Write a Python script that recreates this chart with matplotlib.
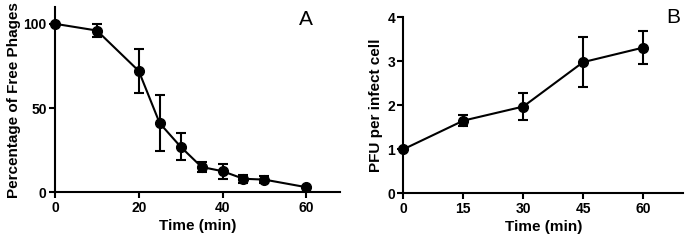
import matplotlib
matplotlib.use("Agg")
import matplotlib.pyplot as plt

plt.rcParams['font.family'] = ['Liberation Sans', 'DejaVu Sans']

# Panel A data
time_a = [0, 10, 20, 25, 30, 35, 40, 45, 50, 60]
free_pct = [100, 96, 72, 41, 27, 15, 12.5, 8, 7.5, 3]
free_err = [0, 4, 13, 16.5, 8, 3, 4.5, 2.5, 2, 0]
xticks_a = [0, 20, 40, 60]
yticks_a = [0, 50, 100]

# Panel B data
time_b = [0, 15, 30, 45, 60]
pfu = [1.0, 1.65, 1.97, 2.98, 3.31]
pfu_err = [0, 0.13, 0.31, 0.57, 0.37]
xticks_b = [0, 15, 30, 45, 60]
yticks_b = [0, 1, 2, 3, 4]

fig = plt.figure(figsize=(6.85, 2.4), dpi=100)
axA = fig.add_axes([0.0803, 0.199, 0.4157, 0.772])
axB = fig.add_axes([0.589, 0.195, 0.408, 0.733])

def style(ax):
    for s in ['top', 'right']:
        ax.spines[s].set_visible(False)
    for s in ['left', 'bottom']:
        ax.spines[s].set_linewidth(1.5)
    ax.tick_params(direction='out', length=4, width=1.5, labelsize=10, pad=2)
    for lab in ax.get_xticklabels() + ax.get_yticklabels():
        lab.set_fontweight('bold')

axA.errorbar(time_a, free_pct, yerr=free_err, color='black', lw=1.5, marker='o',
             ms=7, capsize=3.5, elinewidth=1.5, capthick=1.5, clip_on=False)
axA.set_xlim(0, 68)
axA.set_ylim(0, 110)
axA.set_xticks(xticks_a)
axA.set_yticks(yticks_a)
axA.set_xlabel('Time (min)', fontsize=11, fontweight='bold', labelpad=3)
axA.set_ylabel('Percentage of Free Phages', fontsize=11, fontweight='bold', labelpad=2)
style(axA)
axA.text(0.88, 0.93, 'A', transform=axA.transAxes, fontsize=15, ha='center', va='center')

axB.errorbar(time_b, pfu, yerr=pfu_err, color='black', lw=1.5, marker='o',
             ms=7, capsize=3.5, elinewidth=1.5, capthick=1.5, clip_on=False)
axB.set_xlim(0, 70)
axB.set_ylim(0, 4)
axB.set_xticks(xticks_b)
axB.set_yticks(yticks_b)
axB.set_xlabel('Time (min)', fontsize=11, fontweight='bold', labelpad=3)
axB.set_ylabel('PFU per infect cell', fontsize=11, fontweight='bold', labelpad=3)
style(axB)
axB.text(0.965, 1.0, 'B', transform=axB.transAxes, fontsize=15, ha='center', va='center')

fig.savefig('out.png', dpi=100)
